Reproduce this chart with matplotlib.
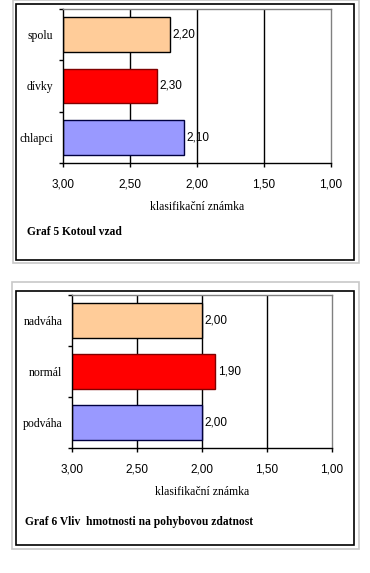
import numpy as np
import matplotlib
matplotlib.use("Agg")
import matplotlib.pyplot as plt
from matplotlib.patches import Rectangle
from matplotlib.ticker import FuncFormatter

# data
cats1 = ['chlapci', 'dívky', 'spolu']
vals1 = [2.10, 2.30, 2.20]
title1 = 'Graf 5 Kotoul vzad'

cats2 = ['podváha', 'normál', 'nadváha']
vals2 = [2.00, 1.90, 2.00]
title2 = 'Graf 6 Vliv  hmotnosti na pohybovou zdatnost'

xlabel = 'klasifikační známka'
xticks = [3.0, 2.5, 2.0, 1.5, 1.0]
colors = ['#9999FF', '#FF0000', '#FFCC99']
edges = ['#000040', '#800000', '#000000']

W, H = 370, 573
SERIF = 'Liberation Serif'
SANS = 'Liberation Sans'


def box(x0, y0, x1, y1):
    # pixel box (top-left origin) -> figure fraction rect
    return [x0 / W, 1 - y1 / H, (x1 - x0) / W, (y1 - y0) / H]


def comma(v, pos=None):
    return ('%.2f' % v).replace('.', ',')


fig = plt.figure(figsize=(W / 100, H / 100), dpi=100)
fig.patch.set_facecolor('white')

# frames around the two charts
for (gx0, gy0, gx1, gy1), (bx0, by0, bx1, by1) in [
        ((13, 0, 359, 263), (16, 4, 354, 260)),
        ((12, 282, 359, 549), (16, 291, 354, 545))]:
    fig.patches.append(Rectangle((gx0 / W, 1 - gy1 / H), (gx1 - gx0) / W,
                                 (gy1 - gy0) / H, transform=fig.transFigure,
                                 fill=False, ec='#c8c8c8', lw=1.2))
    fig.patches.append(Rectangle((bx0 / W, 1 - by1 / H), (bx1 - bx0) / W,
                                 (by1 - by0) / H, transform=fig.transFigure,
                                 fill=False, ec='black', lw=1.2))


def draw(rect, cats, vals, bh, title, tpos):
    ax = fig.add_axes(box(*rect))
    y = np.arange(len(cats))
    widths = np.array(vals) - 3.0
    ax.barh(y, widths, left=3.0, height=bh, color=colors, edgecolor=edges,
            linewidth=1.0, zorder=2)
    ax.set_xlim(3.0, 1.0)
    ax.set_ylim(-0.5, len(cats) - 0.5)
    ax.set_xticks(xticks)
    ax.xaxis.set_major_formatter(FuncFormatter(comma))
    ax.set_yticks(np.arange(len(cats) + 1) - 0.5)
    ax.set_yticklabels([])
    ax.set_yticks(y, minor=True)
    ax.set_yticklabels(cats, minor=True, fontfamily=SERIF, fontsize=8.5)
    ax.tick_params(axis='y', which='major', length=3, width=1, direction='out')
    ax.tick_params(axis='y', which='minor', length=0, pad=7)
    ax.tick_params(axis='x', length=3, width=1, pad=8, labelsize=8.5)
    for lab in ax.get_xticklabels():
        lab.set_fontfamily(SANS)
    for xv in xticks[1:-1]:
        ax.axvline(xv, color='black', lw=1, zorder=0.5)
    for s in ['top', 'right']:
        ax.spines[s].set_color('#808080')
        ax.spines[s].set_linewidth(1)
    for s in ['left', 'bottom']:
        ax.spines[s].set_linewidth(1)
    for yi, v in zip(y, vals):
        ax.text(v - 0.02, yi, comma(v), ha='left', va='center',
                fontfamily=SANS, fontsize=8.5)
    ax.set_xlabel(xlabel, fontfamily=SERIF, fontsize=8.5, labelpad=7.5)
    fig.text(tpos[0] / W, 1 - tpos[1] / H, title, fontfamily=SERIF,
             fontweight='bold', fontsize=8.3, ha='left', va='center')
    return ax


draw((63, 9, 331, 163), cats1, vals1, 0.68, title1, (27, 232))
draw((72, 295, 332, 448), cats2, vals2, 0.67, title2, (25, 522))

fig.savefig('out.png', dpi=100)
